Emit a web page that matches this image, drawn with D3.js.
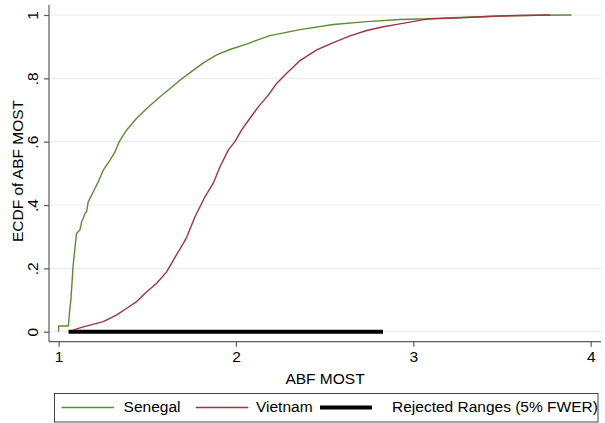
<!DOCTYPE html>
<html><head><meta charset="utf-8">
<script src="https://cdn.jsdelivr.net/npm/d3@7"></script>
<style>
html,body{margin:0;padding:0;background:#fff;}
svg{display:block;font-family:"Liberation Sans",Arial,sans-serif;}
</style></head>
<body><svg id="c" width="605" height="423"></svg>
<script>
// ECDF of ABF MOST, Senegal
const senegalX = [1.000,1.000,1.055,1.061,1.070,1.073,1.082,1.092,1.101,1.120,1.130,1.139,1.149,1.158,1.167,1.196,1.224,1.252,1.290,1.318,1.342,1.384,1.440,1.497,1.572,1.629,1.684,1.741,1.816,1.891,1.966,2.060,2.135,2.192,2.361,2.549,2.737,2.924,3.075,3.112,3.300,3.488,3.700,3.892];
const senegalY = [0.000,0.018,0.018,0.058,0.106,0.132,0.210,0.263,0.310,0.321,0.347,0.358,0.374,0.379,0.410,0.442,0.474,0.510,0.542,0.568,0.600,0.637,0.674,0.705,0.742,0.768,0.794,0.818,0.849,0.874,0.891,0.908,0.924,0.935,0.954,0.970,0.979,0.986,0.988,0.989,0.993,0.997,0.999,1.000];
// ECDF of ABF MOST, Vietnam
const vietnamX = [1.080,1.139,1.177,1.252,1.328,1.384,1.440,1.497,1.553,1.609,1.647,1.703,1.722,1.769,1.825,1.872,1.910,1.957,1.994,2.032,2.079,2.126,2.182,2.229,2.286,2.361,2.455,2.549,2.643,2.737,2.831,2.924,3.075,3.301,3.488,3.770];
const vietnamY = [0.005,0.015,0.021,0.032,0.053,0.074,0.095,0.126,0.153,0.189,0.226,0.279,0.298,0.363,0.426,0.469,0.521,0.574,0.600,0.637,0.674,0.710,0.747,0.784,0.816,0.856,0.890,0.913,0.934,0.951,0.963,0.972,0.987,0.992,0.997,1.000];
// Rejected ranges (5% FWER)
const rejectedFrom = [1.056];
const rejectedTo = [2.829];
const xTicks = [1,2,3,4];
const yTicks = [0,0.2,0.4,0.6,0.8,1];
const yTickLabels = ["0",".2",".4",".6",".8","1"];
const legendLabels = ["Senegal","Vietnam","Rejected Ranges (5% FWER)"];

const svg = d3.select("#c");
const W = 605, H = 423;
const plotL = 49, plotR = 601, plotT = 5, plotB = 341.7;
const FS = 15.5;
const x = d3.scaleLinear().domain([1,4]).range([58.6,590.7]);
const y = d3.scaleLinear().domain([0,1]).range([331.7,15]);
const green = "#5e8b36", red = "#a23340", axisCol = "#5a5a5a", gridCol = "#e6eef1";

svg.append("rect").attr("width",W).attr("height",H).attr("fill","#fff");

// gridlines
svg.append("g").selectAll("line").data(yTicks).join("line")
  .attr("x1",plotL).attr("x2",plotR)
  .attr("y1",d=>y(d)).attr("y2",d=>y(d))
  .attr("stroke",gridCol).attr("stroke-width",1.2);

// axes
const xAxis = d3.axisBottom(x).tickValues(xTicks).tickFormat(d3.format("d")).tickSize(5).tickSizeOuter(0);
const gx = svg.append("g").attr("transform",`translate(0,${plotB})`).call(xAxis);
gx.select(".domain").remove();
gx.append("line").attr("x1",plotL).attr("x2",plotR).attr("y1",0).attr("y2",0).attr("stroke",axisCol).attr("stroke-width",1.2);
gx.selectAll(".tick line").attr("stroke",axisCol).attr("stroke-width",1.2);
gx.selectAll(".tick text").attr("fill","#000").attr("font-size",FS).attr("font-family","Liberation Sans, Arial, sans-serif").attr("y",9);

const yAxis = d3.axisLeft(y).tickValues(yTicks).tickFormat((d,i)=>yTickLabels[i]).tickSize(5).tickSizeOuter(0);
const gy = svg.append("g").attr("transform",`translate(${plotL},0)`).call(yAxis);
gy.select(".domain").remove();
gy.append("line").attr("x1",0).attr("x2",0).attr("y1",plotT).attr("y2",plotB).attr("stroke",axisCol).attr("stroke-width",1.2);
gy.selectAll(".tick line").attr("stroke",axisCol).attr("stroke-width",1.2);
gy.selectAll(".tick text").attr("fill","#000").attr("font-size",FS).attr("font-family","Liberation Sans, Arial, sans-serif")
  .attr("x",null).attr("dy","0")
  .attr("text-anchor","middle")
  .attr("transform","translate(-11,0) rotate(-90)");

// axis titles
svg.append("text").attr("x",(plotL+plotR)/2).attr("y",383.5).attr("text-anchor","middle")
  .attr("font-size",FS).attr("fill","#000").text("ABF MOST");
svg.append("text").attr("transform","translate(22.5,171) rotate(-90)").attr("text-anchor","middle")
  .attr("font-size",FS).attr("fill","#000").text("ECDF of ABF MOST");

// rejected ranges
svg.append("g").selectAll("line").data(rejectedFrom).join("line")
  .attr("x1",d=>x(d)).attr("x2",(d,i)=>x(rejectedTo[i]))
  .attr("y1",y(0)).attr("y2",y(0))
  .attr("stroke","#000").attr("stroke-width",4);

// ECDF lines
const line = d3.line().x(d=>x(d[0])).y(d=>y(d[1]));
const sen = senegalX.map((v,i)=>[v,senegalY[i]]);
const vie = vietnamX.map((v,i)=>[v,vietnamY[i]]);
svg.append("path").datum(sen).attr("d",line).attr("fill","none").attr("stroke",green).attr("stroke-width",1.4).attr("stroke-linejoin","round");
svg.append("path").datum(vie).attr("d",line).attr("fill","none").attr("stroke",red).attr("stroke-width",1.4).attr("stroke-linejoin","round");

// legend
const lg = svg.append("g");
lg.append("rect").attr("x",54.5).attr("y",393.5).attr("width",543.5).attr("height",28.5)
  .attr("fill","#fff").attr("stroke","#444").attr("stroke-width",1);
const legItems = [
  {x1:61.6,x2:113.9,tx:123.6,col:green,w:1.4},
  {x1:195.7,x2:248.3,tx:256,col:red,w:1.4},
  {x1:320,x2:372,tx:392,col:"#000",w:4}
];
legItems.forEach((it,i)=>{
  lg.append("line").attr("x1",it.x1).attr("x2",it.x2).attr("y1",407.5).attr("y2",407.5)
    .attr("stroke",it.col).attr("stroke-width",it.w);
  lg.append("text").attr("x",it.tx).attr("y",412).attr("font-size",FS).attr("fill","#000").text(legendLabels[i]);
});
</script></body></html>
